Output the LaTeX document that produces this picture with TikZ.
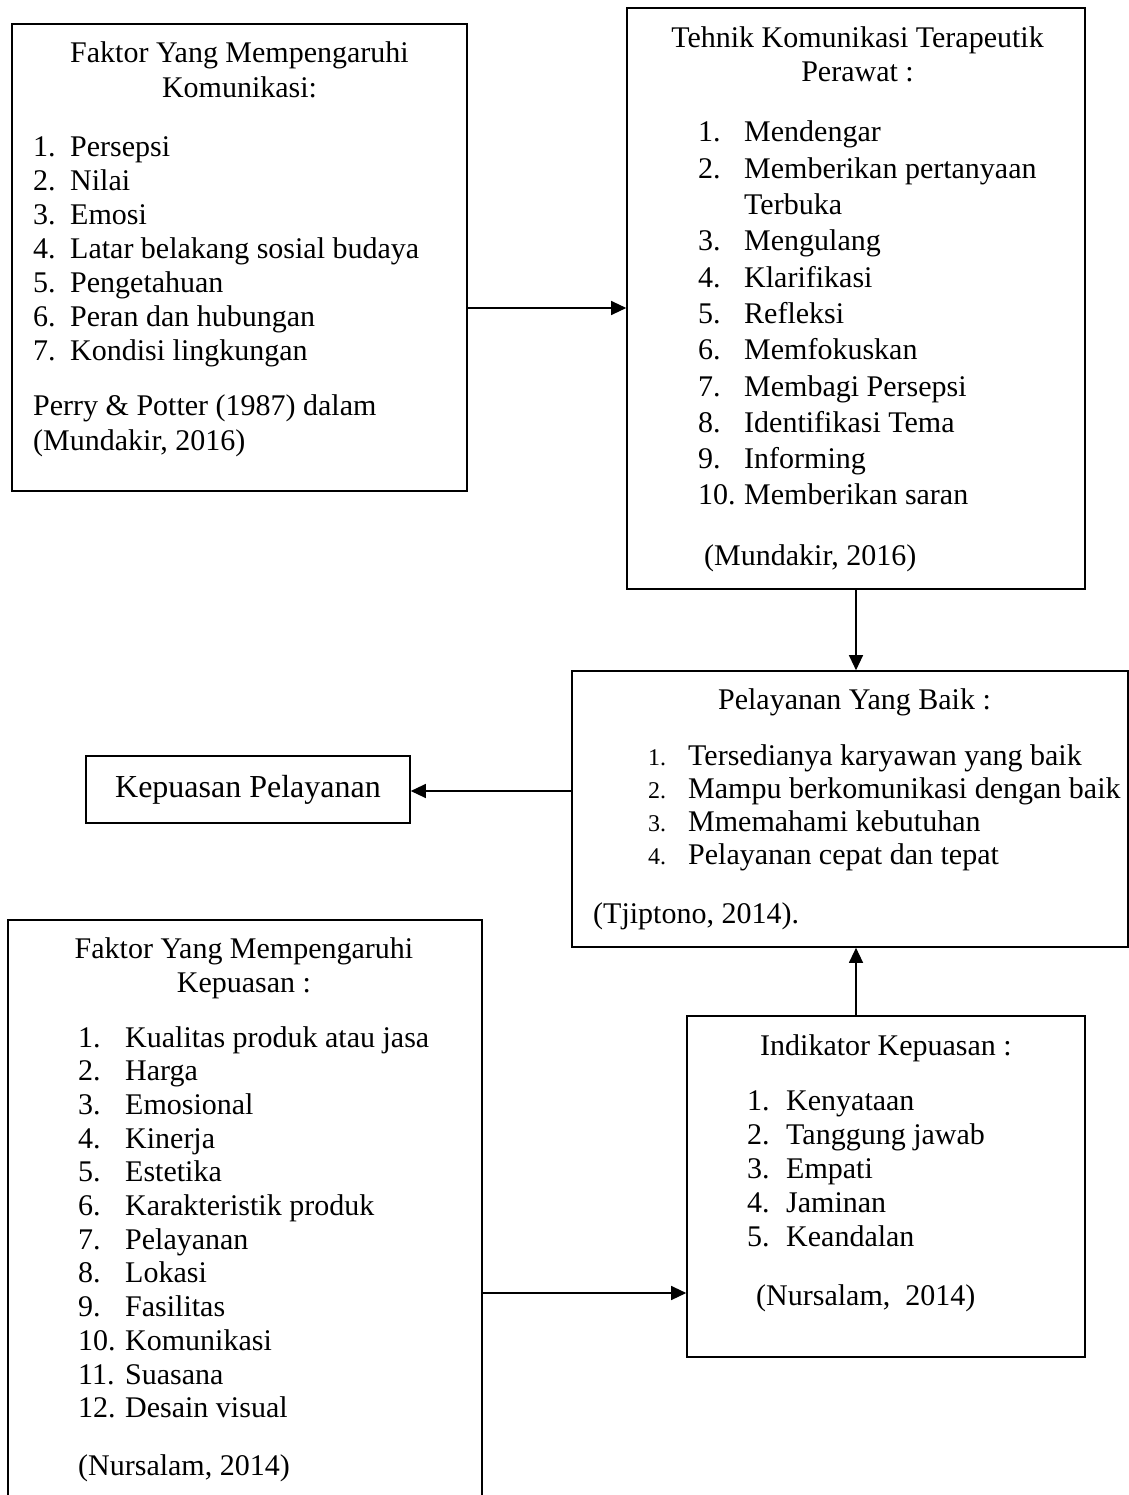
\documentclass[tikz,border=0pt]{standalone}
\usepackage{fontspec}
\setmainfont{Liberation Serif}
\usepackage{array}
\usetikzlibrary{arrows.meta}
\tikzset{
  box/.style={draw, line width=1.6pt, inner sep=0pt},
  ttl/.style={inner sep=0pt, anchor=base, font=\fontsize{30}{34.5}\selectfont},
  txt/.style={inner sep=0pt, anchor=base west, font=\fontsize{30}{34}\selectfont},
  arr/.style={line width=1.2pt, -{Triangle[length=15pt,width=14pt]}}
}

\begin{document}
\begin{tikzpicture}[x=1pt, y=-1pt]
\useasboundingbox (0,0) rectangle (1128,1495);

\node[box, minimum width=455, minimum height=467] (komunikasi) at (239.5,257.5) {};
\node[box, minimum width=458, minimum height=581] (tehnik) at (856,298.5) {};
\node[box, minimum width=556, minimum height=276] (baik) at (850,809) {};
\node[box, minimum width=324, minimum height=67, font=\fontsize{32}{38}\selectfont] (puas) at (248,789.5) {Kepuasan Pelayanan};
\node[box, minimum width=474, minimum height=590] (faktorpuas) at (245,1215) {};
\node[box, minimum width=398, minimum height=341] (indikator) at (886,1186.5) {};

\node[ttl] (komtitle) at (239.5,63) {\begin{tabular}[t]{@{}c@{}}Faktor Yang Mempengaruhi\\ Komunikasi:\end{tabular}};
\node[txt] (komlist) at (33,157) {\begin{tabular}[t]{@{}p{37pt}@{}l@{}}
1. & Persepsi\\ 2. & Nilai\\ 3. & Emosi\\ 4. & Latar belakang sosial budaya\\
5. & Pengetahuan\\ 6. & Peran dan hubungan\\ 7. & Kondisi lingkungan\end{tabular}};
\node[txt, font=\fontsize{30}{35}\selectfont] (komsrc) at (33,415) {\begin{tabular}[t]{@{}l@{}}Perry \& Potter (1987) dalam\\ (Mundakir, 2016)\end{tabular}};

\node[ttl, font=\fontsize{30}{34}\selectfont] (tehtitle) at (857.5,48) {\begin{tabular}[t]{@{}c@{}}Tehnik Komunikasi Terapeutik\\ Perawat :\end{tabular}};
\node[txt, font=\fontsize{30}{36.3}\selectfont] (tehlist) at (698,142) {\begin{tabular}[t]{@{}p{46pt}@{}l@{}}
1. & Mendengar\\ 2. & Memberikan pertanyaan\\ & Terbuka\\ 3. & Mengulang\\ 4. & Klarifikasi\\
5. & Refleksi\\ 6. & Memfokuskan\\ 7. & Membagi Persepsi\\ 8. & Identifikasi Tema\\
9. & Informing\\ 10. & Memberikan saran\end{tabular}};
\node[txt] (tehsrc) at (704,565) {(Mundakir, 2016)};

\node[ttl] (baiktitle) at (854.5,709) {Pelayanan Yang Baik :};
\node[txt, font=\fontsize{30}{33}\selectfont] (baiklist) at (648,765) {\begin{tabular}[t]{@{}>{\fontsize{24}{33}\selectfont}p{40pt}@{}l@{}}
1. & Tersedianya karyawan yang baik\\ 2. & Mampu berkomunikasi dengan baik\\
3. & Mmemahami kebutuhan\\ 4. & Pelayanan cepat dan tepat\end{tabular}};
\node[txt] (baiksrc) at (593,923) {(Tjiptono, 2014).};

\node[ttl, font=\fontsize{30}{34}\selectfont] (puastitle) at (244,958) {\begin{tabular}[t]{@{}c@{}}Faktor Yang Mempengaruhi\\ Kepuasan :\end{tabular}};
\node[txt, font=\fontsize{30}{33.7}\selectfont] (puaslist) at (78,1047) {\begin{tabular}[t]{@{}p{47pt}@{}l@{}}
1. & Kualitas produk atau jasa\\ 2. & Harga\\ 3. & Emosional\\ 4. & Kinerja\\
5. & Estetika\\ 6. & Karakteristik produk\\ 7. & Pelayanan\\ 8. & Lokasi\\
9. & Fasilitas\\ 10. & Komunikasi\\ 11. & Suasana\\ 12. & Desain visual\end{tabular}};
\node[txt] (puassrc) at (78,1475) {(Nursalam, 2014)};

\node[ttl] (inditle) at (886,1055) {Indikator Kepuasan :};
\node[txt] (indlist) at (747,1110) {\begin{tabular}[t]{@{}p{39pt}@{}l@{}}
1. & Kenyataan\\ 2. & Tanggung jawab\\ 3. & Empati\\ 4. & Jaminan\\ 5. & Keandalan\end{tabular}};
\node[txt] (indsrc) at (756,1305) {(Nursalam,\ \ 2014)};

\draw[arr] (komunikasi.east |- 0,308) -- (tehnik.west |- 0,308);
\draw[arr] (tehnik.south) -- (tehnik.south |- baik.north);
\draw[arr] (baik.west |- 0,791) -- (puas.east |- 0,791);
\draw[arr] (indikator.north -| tehnik.south) -- (baik.south -| tehnik.south);
\draw[arr] (faktorpuas.east |- 0,1293) -- (indikator.west |- 0,1293);
\end{tikzpicture}
\end{document}
